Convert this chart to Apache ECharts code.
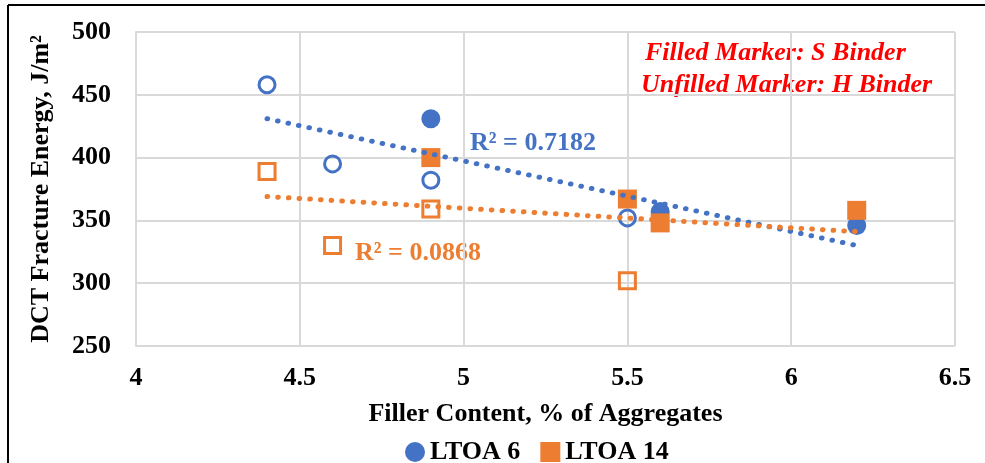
<!DOCTYPE html>
<html>
<head>
<meta charset="utf-8">
<script src="https://cdn.jsdelivr.net/npm/echarts@6/dist/echarts.min.js"></script>
<style>
html,body{margin:0;padding:0;background:#fff;}
#chart{width:985px;height:463px;}
</style>
</head>
<body>
<div id="chart"></div>
<script>
// ---- data ----
const xTicks = [4, 4.5, 5, 5.5, 6, 6.5];
const yTicks = [250, 300, 350, 400, 450, 500];

// LTOA 6 (blue circles)
const ltoa6FilledX = [4.9, 5.6, 6.2];           // S binder
const ltoa6FilledY = [431, 357, 346];
const ltoa6OpenX   = [4.4, 4.6, 4.9, 5.5];      // H binder
const ltoa6OpenY   = [458, 395, 382, 352];

// LTOA 14 (orange squares)
const ltoa14FilledX = [4.9, 5.5, 5.6, 6.2];     // S binder
const ltoa14FilledY = [400, 367, 348, 358];
const ltoa14OpenX   = [4.4, 4.6, 4.9, 5.5];     // H binder
const ltoa14OpenY   = [389, 330, 359, 302];

// Linear trendlines (end points)
const trend6X  = [4.4, 6.2];
const trend6Y  = [431, 330];
const trend14X = [4.4, 6.2];
const trend14Y = [369, 341];

const r2Labels = ['R² = 0.7182', 'R² = 0.0868'];
const legendNames = ['LTOA 6', 'LTOA 14'];

const BLUE = '#4472C4', ORANGE = '#ED7D31', RED = '#FF0000';
const FONT = '"Liberation Serif", "Times New Roman", serif';
const FS = 26;

function pairs(xs, ys){ return xs.map((x,i)=>[x, ys[i]]); }

const chart = echarts.init(document.getElementById('chart'));
const option = {
  backgroundColor: '#fff',
  animation: false,
  grid: { left: 136, right: 30, top: 32, bottom: 117 },
  xAxis: {
    type: 'value', min: xTicks[0], max: xTicks[xTicks.length-1], interval: 0.5,
    name: 'Filler Content, % of Aggregates', nameLocation: 'middle', nameGap: 55,
    nameTextStyle: { fontFamily: FONT, fontWeight: 'bold', fontSize: FS, color: '#000' },
    axisLine: { show: false }, axisTick: { show: false },
    axisLabel: { fontFamily: FONT, fontWeight: 'bold', fontSize: FS, color: '#000', margin: 19 },
    splitLine: { show: true, lineStyle: { color: '#d9d9d9', width: 2 } }
  },
  yAxis: {
    type: 'value', min: yTicks[0], max: yTicks[yTicks.length-1], interval: 50,
    name: 'DCT Fracture Energy, J/m²', nameLocation: 'middle', nameGap: 82, nameRotate: 90,
    nameTextStyle: { fontFamily: FONT, fontWeight: 'bold', fontSize: FS, color: '#000' },
    axisLine: { show: true, lineStyle: { color: '#d9d9d9', width: 2 } }, axisTick: { show: false },
    axisLabel: { fontFamily: FONT, fontWeight: 'bold', fontSize: FS, color: '#000', margin: 25 },
    splitLine: { show: true, lineStyle: { color: '#d9d9d9', width: 2 } }
  },
  legend: {
    data: [{ name: legendNames[0], icon: 'circle' }, { name: legendNames[1], icon: 'rect' }],
    left: 400, top: 434, itemWidth: 20, itemHeight: 20, itemGap: 20,
    textStyle: { fontFamily: FONT, fontWeight: 'bold', fontSize: FS, color: '#000' }
  },
  series: [
    { name: legendNames[0], type: 'scatter', symbol: 'circle', symbolSize: 19, z: 2,
      itemStyle: { color: BLUE, opacity: 1 }, data: pairs(ltoa6FilledX, ltoa6FilledY) },
    { name: 'LTOA 6 H', type: 'scatter', symbol: 'circle', symbolSize: 16, z: 2,
      itemStyle: { color: 'rgba(255,255,255,0)', borderColor: BLUE, borderWidth: 3, opacity: 1 },
      data: pairs(ltoa6OpenX, ltoa6OpenY) },
    { name: legendNames[1], type: 'scatter', symbol: 'rect', symbolSize: 19, z: 3,
      itemStyle: { color: ORANGE, opacity: 1 }, data: pairs(ltoa14FilledX, ltoa14FilledY) },
    { name: 'LTOA 14 H', type: 'scatter', symbol: 'rect', symbolSize: 16, z: 3,
      itemStyle: { color: 'rgba(255,255,255,0)', borderColor: ORANGE, borderWidth: 3, opacity: 1 },
      data: pairs(ltoa14OpenX, ltoa14OpenY) },
    { name: 'Trend LTOA 6', type: 'line', showSymbol: false, symbol: 'none', z: 4,
      lineStyle: { color: BLUE, width: 5, type: [0.6, 10.1], cap: 'round' },
      data: pairs(trend6X, trend6Y) },
    { name: 'Trend LTOA 14', type: 'line', showSymbol: false, symbol: 'none', z: 4,
      lineStyle: { color: ORANGE, width: 5, type: [0.6, 10.1], cap: 'round' },
      data: pairs(trend14X, trend14Y) }
  ],
  graphic: [
    { type: 'line', shape: { x1: 8, y1: 5, x2: 985, y2: 5 }, style: { stroke: '#000', lineWidth: 2 } },
    { type: 'line', shape: { x1: 8, y1: 5, x2: 8, y2: 463 }, style: { stroke: '#000', lineWidth: 2 } },
    { type: 'text', left: 470, top: 130, style: { text: r2Labels[0], fill: BLUE,
      font: 'bold ' + FS + 'px ' + FONT } },
    { type: 'text', left: 355, top: 240, style: { text: r2Labels[1], fill: ORANGE,
      font: 'bold ' + FS + 'px ' + FONT } },
    { type: 'text', left: 645, top: 40, style: { text: 'Filled Marker: S Binder', fill: RED,
      font: 'italic bold ' + FS + 'px ' + FONT } },
    { type: 'text', left: 641, top: 72, style: { text: 'Unfilled Marker: H Binder', fill: RED,
      font: 'italic bold ' + FS + 'px ' + FONT } }
  ]
};
chart.setOption(option);
</script>
</body>
</html>
